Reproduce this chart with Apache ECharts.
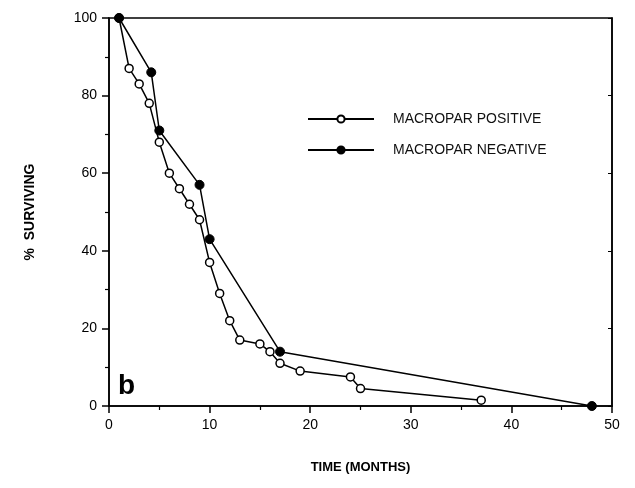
<!doctype html>
<html>
<head>
<meta charset="UTF-8">
<script src="https://cdn.jsdelivr.net/npm/echarts@6/dist/echarts.min.js"></script>
</head>
<body style="margin:0;background:#fff;">
<div id="chart" style="width:635px;height:488px;"></div>
<script>
// macropar positive (open circles)
var posMonths = [1, 2, 3, 4, 5, 6, 7, 8, 9, 10, 11, 12, 13, 15, 16, 17, 19, 24, 25, 37];
var posSurv = [100, 87, 83, 78, 68, 60, 56, 52, 48, 37, 29, 22, 17, 16, 14, 11, 9, 7.5, 4.5, 1.5];
// macropar negative (filled circles)
var negMonths = [1, 4.2, 5, 9, 10, 17, 48];
var negSurv = [100, 86, 71, 57, 43, 14, 0];

var seriesNames = ['MACROPAR POSITIVE', 'MACROPAR NEGATIVE'];

function pairs(xs, ys) {
    var out = [];
    for (var i = 0; i < xs.length; i++) out.push([xs[i], ys[i]]);
    return out;
}

var font = 'Liberation Sans, Arial, sans-serif';
var chart = echarts.init(document.getElementById('chart'));
var option = {
    backgroundColor: '#fff',
    animation: false,
    grid: { left: 109, right: 23, top: 18, bottom: 82, show: true, borderColor: '#000', borderWidth: 1.5 },
    legend: {
        orient: 'vertical',
        left: 302,
        top: 107,
        itemWidth: 66,
        itemHeight: 9,
        itemGap: 17,
        textStyle: { fontFamily: font, fontSize: 14, color: '#111', padding: [0, 0, 0, 14] },
        data: seriesNames
    },
    xAxis: {
        type: 'value', min: 0, max: 50, interval: 10,
        name: 'TIME (MONTHS)', nameLocation: 'middle', nameGap: 55,
        nameTextStyle: { fontFamily: font, fontSize: 13, fontWeight: 'bold', color: '#000' },
        axisLine: { lineStyle: { color: '#000', width: 1.5 } },
        axisTick: { length: 7, lineStyle: { color: '#000', width: 1.5 } },
        minorTick: { show: true, splitNumber: 2, length: 4, lineStyle: { color: '#000', width: 1.2 } },
        splitLine: { show: false },
        axisLabel: { fontFamily: font, fontSize: 14, color: '#000', margin: 12 }
    },
    yAxis: [{
        type: 'value', min: 0, max: 100, interval: 20,
        name: '%  SURVIVING', nameLocation: 'middle', nameGap: 72, nameRotate: 90,
        nameTextStyle: { fontFamily: font, fontSize: 14, fontWeight: 'bold', color: '#000' },
        axisLine: { lineStyle: { color: '#000', width: 1.5 } },
        axisTick: { length: 7, lineStyle: { color: '#000', width: 1.5 } },
        minorTick: { show: true, splitNumber: 2, length: 4, lineStyle: { color: '#000', width: 1.2 } },
        splitLine: { show: false },
        axisLabel: { fontFamily: font, fontSize: 14, color: '#000', margin: 12 }
    }, {
        type: 'value', min: 0, max: 100, interval: 20, position: 'right',
        axisLine: { show: true, lineStyle: { color: '#000', width: 1.5 } },
        axisTick: { show: true, inside: true, length: 4, lineStyle: { color: '#000' } },
        axisLabel: { show: false },
        splitLine: { show: false }
    }],
    graphic: [{
        type: 'text', left: 118, top: 372,
        style: { text: 'b', fontFamily: font, fontSize: 28, fontWeight: 'bold', fill: '#000' }
    }],
    series: [{
        name: seriesNames[0], type: 'line',
        data: pairs(posMonths, posSurv),
        symbol: 'circle', symbolSize: 8,
        lineStyle: { color: '#000', width: 1.5 },
        itemStyle: { color: '#fff', borderColor: '#000', borderWidth: 1.5 },
        z: 2
    }, {
        name: seriesNames[1], type: 'line',
        data: pairs(negMonths, negSurv),
        symbol: 'circle', symbolSize: 9,
        lineStyle: { color: '#000', width: 1.5 },
        itemStyle: { color: '#000', borderColor: '#000', borderWidth: 1 },
        z: 3
    }]
};
chart.setOption(option);
</script>
</body>
</html>
